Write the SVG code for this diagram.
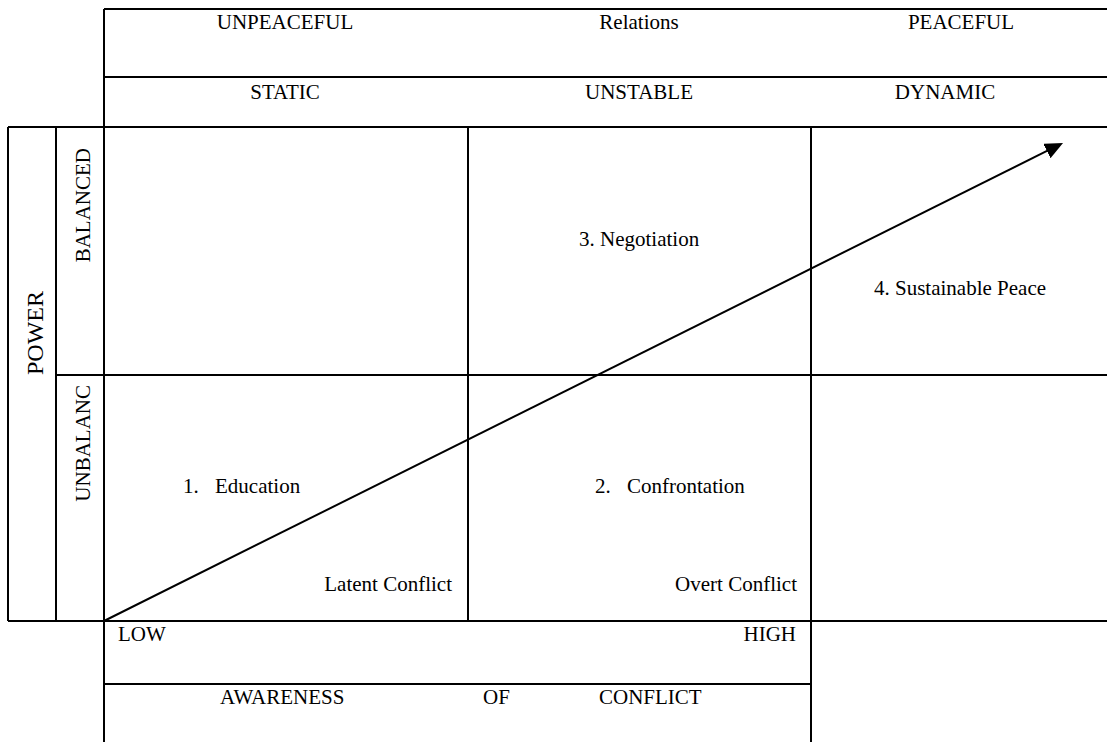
<svg xmlns="http://www.w3.org/2000/svg" width="1107" height="742" viewBox="0 0 1107 742">
<style>
.g{stroke:#000;stroke-width:2;fill:none}
.t{font-family:"Liberation Serif","Times New Roman",serif;font-size:21px;fill:#000}
.m{text-anchor:middle}
.e{text-anchor:end}
</style>
<defs>
<marker id="ah" markerUnits="userSpaceOnUse" markerWidth="20" markerHeight="18" refX="4" refY="8" orient="auto">
<path d="M0,0 L18,8 L0,16 Z" fill="#000"/>
</marker>
</defs>
<rect width="1107" height="742" fill="#fff"/>
<g id="grid" class="g">
<line x1="104" y1="9" x2="1107" y2="9"/>
<line x1="104" y1="77" x2="1107" y2="77"/>
<line x1="8" y1="127" x2="1107" y2="127"/>
<line x1="104" y1="9" x2="104" y2="742"/>
<line x1="8" y1="127" x2="8" y2="621"/>
<line x1="56" y1="127" x2="56" y2="621"/>
<line x1="468" y1="127" x2="468" y2="621"/>
<line x1="811" y1="127" x2="811" y2="742"/>
<line x1="56" y1="375" x2="1107" y2="375"/>
<line x1="8" y1="621" x2="1107" y2="621"/>
<line x1="104" y1="684" x2="811" y2="684"/>
</g>
<g id="header">
<text class="t m" x="285" y="29">UNPEACEFUL</text>
<text class="t m" x="639" y="29">Relations</text>
<text class="t m" x="961" y="29">PEACEFUL</text>
<text class="t m" x="285" y="99">STATIC</text>
<text class="t m" x="639" y="99">UNSTABLE</text>
<text class="t m" x="945" y="99">DYNAMIC</text>
</g>
<g id="power">
<text class="t m" style="font-size:24px" transform="translate(43,333) rotate(-90)">POWER</text>
<text class="t e" transform="translate(90,148) rotate(-90)">BALANCED</text>
<text class="t e" transform="translate(90,385) rotate(-90)">UNBALANC</text>
</g>
<g id="cell-negotiation"><text class="t" x="579" y="246">3. Negotiation</text></g>
<g id="cell-peace"><text class="t" x="874" y="295">4. Sustainable Peace</text></g>
<g id="cell-education">
<text class="t" x="183" y="493">1.</text>
<text class="t" x="215" y="493">Education</text>
<text class="t e" x="452" y="591">Latent Conflict</text>
</g>
<g id="cell-confrontation">
<text class="t" x="595" y="493">2.</text>
<text class="t" x="627" y="493">Confrontation</text>
<text class="t e" x="797" y="591">Overt Conflict</text>
</g>
<g id="axis">
<text class="t" x="118" y="641">LOW</text>
<text class="t e" x="796" y="641">HIGH</text>
<text class="t" x="220" y="704">AWARENESS</text>
<text class="t" x="483" y="704">OF</text>
<text class="t" x="599" y="704">CONFLICT</text>
</g>
<g id="connectors">
<line x1="104" y1="621" x2="1050.5" y2="149.2" stroke="#000" stroke-width="2" marker-end="url(#ah)"/>
</g>
</svg>
